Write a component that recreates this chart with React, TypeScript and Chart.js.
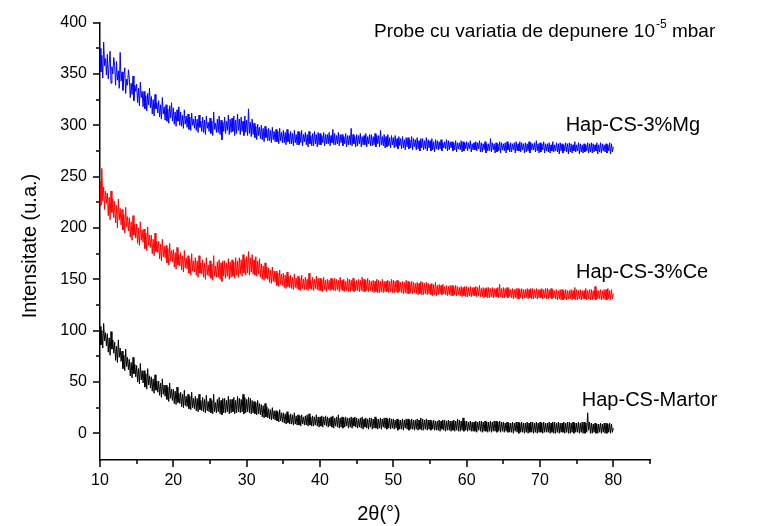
import { useEffect, useRef } from "react";
import { Chart, registerables } from "chart.js";
Chart.register(...registerables);

// 2θ sampling grid (degrees), 0.125° step from 10 to 80
const twoTheta: number[] = Array.from({ length: 561 }, (_, i) => 10 + i * 0.125);

// Hap-CS-3%Mg (blue) — one row per degree (10..79), then 80
const mg = [
  375, 352, 368, 346, 381, 358, 365, 349,
  369, 345, 360, 372, 341, 357, 350, 366,
  358, 339, 362, 344, 353, 336, 371, 343,
  352, 334, 347, 356, 331, 345, 339, 354,
  345, 327, 341, 330, 348, 324, 339, 333,
  340, 322, 336, 319, 342, 327, 333, 318,
  333, 316, 329, 314, 331, 320, 336, 317,
  328, 311, 325, 309, 330, 316, 322, 312,
  324, 308, 320, 306, 327, 311, 318, 305,
  320, 304, 316, 302, 319, 307, 322, 304,
  317, 301, 313, 299, 315, 304, 318, 300,
  313, 299, 310, 297, 315, 301, 309, 298,
  311, 296, 308, 295, 312, 300, 306, 297,
  309, 295, 306, 293, 310, 298, 304, 294,
  308, 293, 305, 291, 309, 297, 303, 294,
  307, 292, 304, 290, 313, 296, 302, 293,
  306, 293, 309, 291, 305, 286, 303, 294,
  308, 292, 304, 295, 310, 291, 306, 293,
  307, 294, 309, 290, 305, 292, 311, 295,
  306, 291, 308, 294, 304, 290, 309, 293,
  305, 290, 316, 292, 303, 289, 306, 291,
  302, 288, 299, 286, 301, 290, 298, 287,
  300, 286, 297, 284, 299, 288, 296, 285,
  297, 285, 295, 283, 298, 286, 294, 284,
  296, 284, 294, 282, 297, 285, 293, 283,
  295, 283, 293, 281, 296, 284, 292, 282,
  294, 282, 292, 280, 295, 283, 291, 281,
  294, 281, 293, 283, 295, 280, 291, 284,
  293, 281, 291, 279, 294, 282, 290, 280,
  292, 280, 294, 282, 291, 279, 293, 281,
  292, 281, 290, 283, 293, 280, 291, 282,
  291, 282, 293, 280, 290, 283, 296, 281,
  292, 281, 290, 282, 293, 280, 291, 283,
  291, 280, 289, 282, 292, 279, 290, 281,
  290, 281, 297, 280, 291, 282, 289, 279,
  291, 280, 290, 282, 292, 279, 289, 281,
  290, 281, 292, 279, 289, 282, 291, 280,
  291, 280, 289, 281, 292, 279, 290, 282,
  290, 279, 295, 281, 289, 280, 291, 278,
  289, 279, 291, 280, 288, 278, 290, 281,
  288, 278, 290, 279, 287, 277, 289, 280,
  287, 277, 289, 278, 286, 276, 288, 279,
  288, 277, 286, 278, 289, 276, 287, 279,
  286, 276, 288, 277, 285, 275, 287, 278,
  287, 276, 285, 277, 288, 275, 286, 278,
  285, 275, 287, 276, 284, 274, 286, 277,
  285, 276, 284, 277, 286, 275, 283, 278,
  284, 277, 286, 275, 285, 276, 284, 278,
  284, 275, 283, 276, 285, 274, 283, 277,
  283, 276, 285, 274, 284, 275, 283, 277,
  284, 275, 283, 277, 285, 274, 282, 276,
  283, 276, 284, 275, 283, 277, 285, 274,
  283, 274, 282, 276, 284, 273, 282, 275,
  282, 275, 287, 274, 283, 276, 282, 273,
  283, 274, 282, 275, 284, 273, 283, 276,
  282, 275, 283, 273, 284, 276, 282, 274,
  283, 274, 282, 276, 283, 273, 284, 275,
  282, 275, 284, 274, 283, 276, 282, 273,
  283, 274, 282, 275, 284, 273, 283, 276,
  282, 276, 283, 274, 285, 275, 282, 273,
  283, 274, 282, 276, 284, 273, 282, 275,
  282, 274, 283, 273, 281, 275, 284, 274,
  281, 275, 283, 274, 282, 272, 283, 275,
  282, 273, 281, 275, 283, 274, 282, 272,
  283, 274, 282, 273, 281, 275, 284, 274,
  281, 275, 283, 272, 282, 274, 281, 273,
  282, 274, 281, 275, 283, 273, 282, 274,
  283, 273, 282, 274, 281, 275, 283, 272,
  281, 274, 283, 273, 282, 275, 281, 274,
  282, 273, 281, 275, 283, 272, 282, 274,
  279,
];

// Hap-CS-3%Ce (red)
const ce = [
  245, 222, 258, 226, 240, 218, 236, 224,
  234, 212, 230, 208, 236, 215, 228, 210,
  226, 205, 222, 200, 228, 208, 219, 203,
  218, 198, 213, 195, 220, 201, 211, 197,
  210, 191, 206, 188, 212, 193, 204, 190,
  204, 185, 200, 183, 206, 188, 198, 186,
  199, 180, 195, 178, 201, 183, 193, 181,
  193, 175, 189, 173, 195, 177, 187, 176,
  187, 170, 184, 168, 189, 172, 182, 171,
  183, 166, 180, 164, 185, 168, 178, 167,
  179, 162, 176, 160, 181, 164, 174, 163,
  176, 159, 173, 157, 178, 161, 171, 160,
  173, 156, 170, 154, 175, 158, 168, 157,
  171, 154, 168, 152, 173, 156, 166, 155,
  169, 152, 166, 150, 171, 154, 164, 153,
  168, 151, 165, 149, 173, 153, 163, 152,
  167, 152, 169, 150, 166, 148, 168, 153,
  168, 151, 166, 153, 170, 150, 167, 152,
  169, 153, 167, 151, 171, 154, 168, 152,
  171, 155, 169, 153, 174, 156, 170, 154,
  172, 156, 177, 154, 171, 157, 174, 155,
  169, 154, 172, 153, 168, 155, 170, 152,
  165, 150, 163, 149, 166, 151, 162, 150,
  161, 147, 159, 146, 162, 148, 158, 147,
  158, 144, 156, 143, 159, 145, 155, 144,
  156, 142, 154, 141, 157, 143, 153, 142,
  154, 141, 152, 140, 155, 142, 151, 141,
  153, 140, 151, 139, 154, 141, 150, 140,
  152, 140, 150, 139, 156, 141, 149, 140,
  152, 139, 150, 141, 153, 140, 151, 139,
  151, 139, 150, 138, 152, 140, 149, 138,
  150, 140, 149, 139, 151, 140, 150, 139,
  151, 139, 150, 140, 149, 138, 152, 140,
  149, 139, 150, 138, 148, 139, 151, 138,
  150, 138, 149, 139, 151, 138, 148, 139,
  149, 139, 150, 138, 149, 139, 152, 138,
  150, 138, 149, 139, 151, 138, 149, 139,
  148, 138, 149, 137, 148, 138, 150, 137,
  149, 137, 148, 138, 150, 137, 148, 138,
  148, 138, 149, 137, 148, 138, 150, 137,
  149, 137, 148, 138, 149, 137, 148, 138,
  147, 137, 148, 136, 147, 137, 149, 136,
  148, 136, 147, 137, 148, 136, 147, 137,
  146, 136, 147, 135, 146, 136, 148, 135,
  147, 135, 146, 136, 147, 135, 146, 136,
  145, 135, 146, 134, 145, 135, 147, 134,
  144, 135, 145, 136, 144, 135, 145, 136,
  143, 135, 144, 134, 143, 135, 144, 134,
  144, 134, 143, 135, 144, 134, 143, 135,
  142, 134, 143, 133, 142, 134, 143, 133,
  143, 133, 142, 134, 143, 133, 142, 134,
  142, 134, 143, 133, 142, 134, 144, 133,
  141, 133, 142, 132, 141, 133, 142, 132,
  142, 132, 141, 133, 142, 132, 141, 133,
  141, 133, 142, 132, 145, 133, 141, 132,
  142, 132, 141, 133, 142, 132, 141, 133,
  140, 132, 141, 131, 140, 132, 141, 131,
  141, 131, 140, 132, 141, 131, 140, 132,
  140, 132, 141, 131, 140, 132, 141, 131,
  141, 131, 140, 132, 141, 131, 140, 132,
  140, 132, 141, 131, 140, 132, 141, 131,
  141, 131, 140, 132, 141, 131, 140, 132,
  139, 131, 140, 130, 139, 131, 140, 130,
  140, 130, 139, 131, 140, 130, 139, 131,
  139, 131, 140, 130, 139, 131, 142, 130,
  140, 130, 139, 131, 140, 130, 139, 131,
  139, 131, 141, 130, 139, 131, 140, 130,
  140, 130, 139, 131, 143, 130, 139, 131,
  139, 131, 140, 130, 139, 131, 140, 130,
  140, 130, 141, 131, 139, 130, 140, 131,
  136,
];

// Hap-CS-Martor (black)
const martor = [
  104, 86, 100, 83, 107, 90, 98, 85,
  97, 79, 93, 76, 99, 82, 91, 78,
  89, 71, 85, 69, 91, 74, 83, 70,
  80, 63, 76, 61, 82, 65, 74, 62,
  72, 56, 69, 54, 74, 58, 67, 55,
  66, 50, 63, 48, 68, 52, 61, 49,
  61, 45, 58, 43, 63, 47, 56, 44,
  55, 41, 53, 39, 57, 42, 51, 40,
  51, 37, 49, 35, 53, 38, 47, 36,
  47, 33, 45, 31, 49, 34, 43, 32,
  43, 29, 41, 28, 45, 30, 39, 29,
  40, 26, 38, 25, 42, 27, 36, 26,
  38, 24, 36, 23, 40, 25, 34, 24,
  36, 22, 34, 21, 38, 23, 32, 22,
  35, 21, 33, 20, 37, 22, 31, 21,
  34, 20, 32, 19, 38, 21, 30, 20,
  33, 21, 35, 19, 32, 18, 34, 20,
  34, 20, 32, 21, 36, 19, 33, 20,
  33, 21, 35, 19, 32, 20, 36, 21,
  34, 20, 33, 21, 38, 19, 35, 20,
  33, 21, 35, 20, 34, 19, 32, 20,
  31, 19, 30, 18, 32, 19, 29, 18,
  28, 16, 27, 15, 29, 16, 26, 15,
  24, 14, 23, 13, 25, 14, 22, 13,
  22, 12, 21, 11, 23, 12, 20, 11,
  20, 10, 19, 9, 21, 10, 18, 9,
  19, 9, 18, 8, 20, 9, 17, 8,
  18, 8, 17, 7, 18, 9, 16, 8,
  17, 8, 18, 7, 19, 8, 16, 7,
  17, 7, 16, 8, 18, 7, 16, 6,
  16, 7, 17, 6, 16, 8, 17, 7,
  16, 6, 15, 7, 16, 6, 17, 5,
  15, 7, 16, 6, 18, 5, 15, 6,
  16, 5, 15, 6, 16, 7, 15, 5,
  15, 6, 16, 5, 15, 7, 16, 6,
  15, 5, 14, 6, 15, 5, 16, 4,
  14, 6, 15, 5, 14, 4, 15, 6,
  15, 4, 14, 5, 16, 5, 14, 4,
  14, 5, 15, 4, 14, 6, 15, 5,
  15, 4, 14, 5, 15, 4, 14, 5,
  14, 4, 13, 5, 14, 3, 13, 4,
  13, 4, 14, 3, 13, 5, 14, 4,
  14, 3, 13, 4, 14, 4, 13, 3,
  13, 4, 14, 3, 13, 4, 15, 3,
  14, 3, 13, 4, 14, 3, 13, 4,
  13, 3, 12, 4, 13, 3, 12, 3,
  12, 3, 13, 2, 12, 4, 13, 3,
  13, 2, 12, 3, 13, 3, 12, 2,
  12, 3, 13, 2, 12, 3, 14, 2,
  13, 2, 12, 3, 15, 2, 12, 3,
  12, 2, 11, 3, 12, 2, 11, 2,
  11, 2, 12, 1, 11, 3, 12, 2,
  12, 1, 11, 2, 12, 2, 11, 1,
  11, 2, 12, 1, 11, 2, 12, 2,
  12, 1, 11, 2, 12, 1, 11, 2,
  11, 1, 10, 2, 11, 1, 10, 1,
  10, 1, 11, 0, 10, 2, 11, 1,
  11, 0, 10, 1, 11, 1, 10, 0,
  10, 1, 11, 0, 10, 1, 11, 1,
  11, 0, 10, 1, 11, 0, 10, 1,
  11, 1, 10, 0, 11, 1, 10, 1,
  10, 1, 11, 0, 10, 1, 11, 0,
  11, 0, 10, 1, 11, 0, 10, 1,
  10, 1, 11, 0, 10, 1, 11, 0,
  11, 0, 10, 1, 11, 0, 10, 1,
  10, 1, 11, 0, 10, 1, 11, 0,
  11, 0, 10, 1, 20, 3, 11, 0,
  10, 0, 9, 1, 10, 0, 9, 0,
  9, 1, 10, 0, 9, 1, 10, 0,
  10, 0, 9, 1, 10, 0, 9, 1,
  5,
];

const seriesNames = ["Hap-CS-3%Mg", "Hap-CS-3%Ce", "Hap-CS-Martor"];
const seriesColors = ["#0000ff", "#ff0000", "#000000"];
const seriesValues = [mg, ce, martor];
// label anchor (data coords: left edge, baseline)
const labelX = [73.5, 74.9, 75.7];
const labelY = [294, 151, 26.5];

const xMajorTicks = [10, 20, 30, 40, 50, 60, 70, 80];
const xMinorTicks = [15, 25, 35, 45, 55, 65, 75, 85];
const yMajorTicks = [0, 50, 100, 150, 200, 250, 300, 350, 400];
const yMinorTicks = [25, 75, 125, 175, 225, 275, 325, 375];

const titleText = "Probe cu variatia de depunere 10";
const titleSup = "-5";
const titleTail = " mbar";
const xTitle = "2θ(°)";
const yTitle = "Intensitate (u.a.)";

const FONT = '"Liberation Sans", Arial, sans-serif';

export default function App() {
  const ref = useRef<HTMLCanvasElement | null>(null);
  useEffect(() => {
    if (!ref.current) return;
    const decor = {
      id: "decor",
      afterDraw(chart: any) {
        const ctx = chart.ctx;
        const xs = chart.scales.x;
        const ys = chart.scales.y;
        const { left, bottom } = chart.chartArea;
        ctx.save();
        ctx.strokeStyle = "#000";
        ctx.lineWidth = 1.5;
        ctx.beginPath();
        for (const v of xMajorTicks) {
          const p = Math.round(xs.getPixelForValue(v));
          ctx.moveTo(p, bottom); ctx.lineTo(p, bottom + 7);
        }
        for (const v of xMinorTicks) {
          const p = Math.round(xs.getPixelForValue(v));
          ctx.moveTo(p, bottom); ctx.lineTo(p, bottom + 4);
        }
        for (const v of yMajorTicks) {
          const p = Math.round(ys.getPixelForValue(v));
          ctx.moveTo(left, p); ctx.lineTo(left - 7, p);
        }
        for (const v of yMinorTicks) {
          const p = Math.round(ys.getPixelForValue(v));
          ctx.moveTo(left, p); ctx.lineTo(left - 4, p);
        }
        ctx.stroke();

        ctx.fillStyle = "#000";
        ctx.textBaseline = "alphabetic";
        ctx.textAlign = "left";
        // series labels
        ctx.font = `20px ${FONT}`;
        seriesNames.forEach((n, i) => {
          ctx.fillText(n, xs.getPixelForValue(labelX[i]), ys.getPixelForValue(labelY[i]));
        });
        // title
        ctx.font = `19px ${FONT}`;
        let tx = 374;
        const ty = 37;
        ctx.fillText(titleText, tx, ty);
        tx += ctx.measureText(titleText).width + 1;
        ctx.font = `12px ${FONT}`;
        ctx.fillText(titleSup, tx, ty - 9);
        tx += ctx.measureText(titleSup).width;
        ctx.font = `19px ${FONT}`;
        ctx.fillText(titleTail, tx, ty);
        // axis titles
        ctx.font = `20px ${FONT}`;
        ctx.textAlign = "center";
        ctx.textBaseline = "middle";
        ctx.fillText(xTitle, 379, 514);
        ctx.save();
        ctx.translate(30, 246);
        ctx.rotate(-Math.PI / 2);
        ctx.fillText(yTitle, 0, 0);
        ctx.restore();
        ctx.restore();
      },
    };
    const chart = new Chart(ref.current, {
      type: "line",
      data: {
        datasets: seriesValues.map((vals, i) => ({
          label: seriesNames[i],
          data: vals.map((y, j) => ({ x: twoTheta[j], y })),
          borderColor: seriesColors[i],
          borderWidth: 1,
          pointRadius: 0,
          tension: 0,
          fill: false,
        })),
      },
      options: {
        animation: false,
        responsive: false,
        devicePixelRatio: 1,
        layout: { padding: { left: 0, top: 19, right: 109, bottom: 0 } },
        plugins: { legend: { display: false }, tooltip: { enabled: false }, title: { display: false } },
        scales: {
          x: {
            type: "linear",
            min: 10,
            max: 85,
            afterBuildTicks: (s: any) => { s.ticks = xMajorTicks.map((v) => ({ value: v })); },
            afterFit: (s: any) => { s.height = 66; },
            grid: { display: false, drawTicks: false },
            border: { display: true, color: "#000", width: 1.5 },
            ticks: { color: "#000", font: { family: FONT, size: 16 }, padding: 11, maxRotation: 0, autoSkip: false },
          },
          y: {
            type: "linear",
            min: -26,
            max: 400,
            afterBuildTicks: (s: any) => { s.ticks = yMajorTicks.map((v) => ({ value: v })); },
            afterFit: (s: any) => { s.width = 100; },
            grid: { display: false, drawTicks: false },
            border: { display: true, color: "#000", width: 1.5 },
            ticks: { color: "#000", font: { family: FONT, size: 16 }, padding: 13, autoSkip: false },
          },
        },
      },
      plugins: [decor],
    } as any);
    return () => chart.destroy();
  }, []);
  return (
    <div style={{ position: "absolute", left: 0, top: 0, width: 759, height: 526, background: "#fff" }}>
      <canvas ref={ref} width={759} height={526} style={{ width: 759, height: 526 }} />
    </div>
  );
}
